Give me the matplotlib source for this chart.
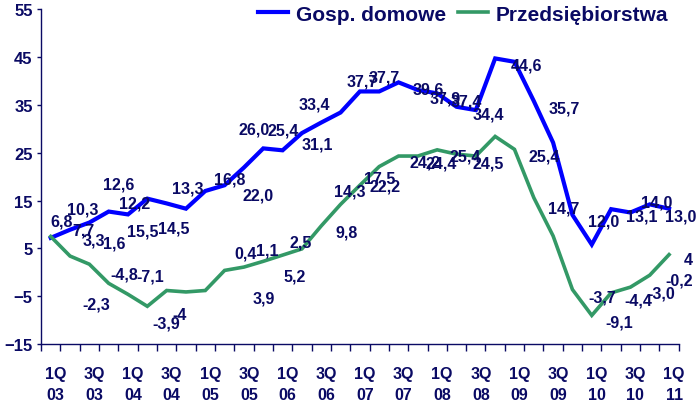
import numpy as np
import matplotlib.pyplot as plt
from matplotlib.transforms import ScaledTranslation

plt.rcParams['font.family'] = ['Liberation Sans', 'DejaVu Sans']
plt.rcParams['font.weight'] = 'bold'

navy = '#0A0A64'

quarters = ['1Q\n03', '3Q\n03', '1Q\n04', '3Q\n04', '1Q\n05', '3Q\n05', '1Q\n06', '3Q\n06',
            '1Q\n07', '3Q\n07', '1Q\n08', '3Q\n08', '1Q\n09', '3Q\n09', '1Q\n10', '3Q\n10', '1Q\n11']

# values, 1Q03 .. 1Q11
gosp = [7.2, 8.9, 10.4, 12.7, 12.1, 15.4, 14.4, 13.3, 17.0, 18.2, 21.9, 25.9, 25.5, 29.1, 31.3, 33.4,
        37.8, 37.8, 39.7, 38.1, 37.4, 34.6, 33.9, 44.7, 44.0, 35.8, 27.1, 12.0, 5.8, 13.2, 12.5, 14.2, 13.3]
przeds = [7.5, 3.4, 1.7, -2.3, -4.6, -7.1, -3.8, -4.1, -3.8, 0.4, 1.1, 2.3, 3.6, 4.9, 9.7, 14.2,
          18.2, 22.1, 24.3, 24.3, 25.6, 24.7, 24.3, 28.4, 25.7, 15.6, 7.6, -3.6, -9.0, -4.3, -3.1, -0.6, 3.7]

# data labels as they sit in the picture (x in quarters from 1Q03, y in chart units)
label_txt = ['6,8', '10,3', '12,6', '12,2', '13,3', '16,8', '26,0', '25,4', '33,4', '31,1', '22,0',
             '37,7', '37,7', '39,6', '37,9', '37,4', '34,4', '44,6', '35,7', '25,4', '14,7', '12,0',
             '13,1', '14,0', '13,0',
             '7,7', '3,3', '1,6', '15,5', '14,5', '-4,8', '-7,1', '-2,3', '-3,9', '-4', '0,4', '1,1',
             '2,5', '5,2', '3,9', '9,8', '14,3', '17,5', '22,2', '24,2', '24,4', '25,4', '24,5',
             '-3,7', '-9,1', '-4,4', '-3,0', '-0,2', '4']
label_x = [0.55, 1.68, 3.50, 4.36, 7.10, 9.24, 10.53, 12.01, 13.65, 13.82, 10.74,
           16.12, 17.28, 19.56, 20.39, 21.52, 22.65, 24.63, 26.59, 25.55, 26.55, 28.61,
           30.60, 31.37, 32.59,
           1.70, 2.23, 3.27, 4.74, 6.35, 3.79, 5.17, 2.37, 6.00, 6.68, 10.10, 11.23,
           12.96, 12.65, 11.02, 15.33, 15.47, 17.02, 17.28, 19.36, 20.22, 21.43, 22.65,
           28.53, 29.44, 30.43, 31.60, 32.51, 32.99]
label_y = [10.7, 13.3, 18.4, 14.4, 17.6, 19.6, 30.0, 29.7, 35.1, 26.8, 16.1,
           39.9, 40.9, 38.4, 36.5, 35.8, 33.0, 43.3, 34.4, 24.3, 13.4, 10.7,
           11.8, 14.7, 11.8,
           8.8, 6.7, 6.2, 8.6, 9.3, -0.4, -0.8, -6.7, -10.5, -8.8, 4.1, 4.6,
           6.3, -0.8, -5.3, 8.4, 16.9, 19.8, 18.0, 23.1, 22.9, 24.3, 22.9,
           -5.1, -10.4, -5.7, -4.3, -1.5, 2.7]

fig = plt.figure(figsize=(6.99, 4.06), dpi=100)
ax = fig.add_axes([0.0587, 0.150, 0.9123, 0.825])

x = np.arange(len(gosp))
ax.plot(x, gosp, color='#0000FF', lw=3.0, label='Gosp. domowe', solid_joinstyle='miter')
ax.plot(x, przeds, color='#339966', lw=2.6, label='Przedsiębiorstwa', solid_joinstyle='miter')

for t, lx, ly in zip(label_txt, label_x, label_y):
    ax.text(lx, ly, t, ha='center', va='center', fontsize=11.5, fontweight='bold', color=navy, clip_on=False)

ax.set_xlim(-0.5, len(gosp) - 0.5)
ax.set_ylim(-15, 55)
ax.set_yticks(np.arange(-15, 56, 10))
ax.set_xticks(np.arange(0, len(gosp), 2))
ax.set_xticklabels(quarters, fontsize=11.5, fontweight='bold', color=navy, linespacing=1.5)
ax.set_xticks(np.arange(-0.5, len(gosp), 1), minor=True)
ax.tick_params(axis='x', which='major', length=0, pad=16)
ax.tick_params(axis='x', which='minor', length=5, width=1, color=navy, direction='out')
ax.tick_params(axis='y', length=3, width=1, color=navy, labelcolor=navy, labelsize=12, pad=3)
for lbl in ax.get_yticklabels():
    lbl.set_fontweight('bold')
for lbl in ax.get_xticklabels():
    lbl.set_transform(lbl.get_transform() + ScaledTranslation(0.05, 0, fig.dpi_scale_trans))

for s in ['top', 'right']:
    ax.spines[s].set_visible(False)
for s in ['left', 'bottom']:
    ax.spines[s].set_color(navy)
    ax.spines[s].set_linewidth(1)

leg = fig.legend(loc='center right', bbox_to_anchor=(0.956, 0.963), ncol=2, frameon=False,
                 prop={'size': 15, 'weight': 'bold'}, handlelength=1.45, handletextpad=0.35,
                 columnspacing=0.6, borderpad=0, borderaxespad=0)
for t in leg.get_texts():
    t.set_color(navy)

fig.savefig('out.png', dpi=100)
